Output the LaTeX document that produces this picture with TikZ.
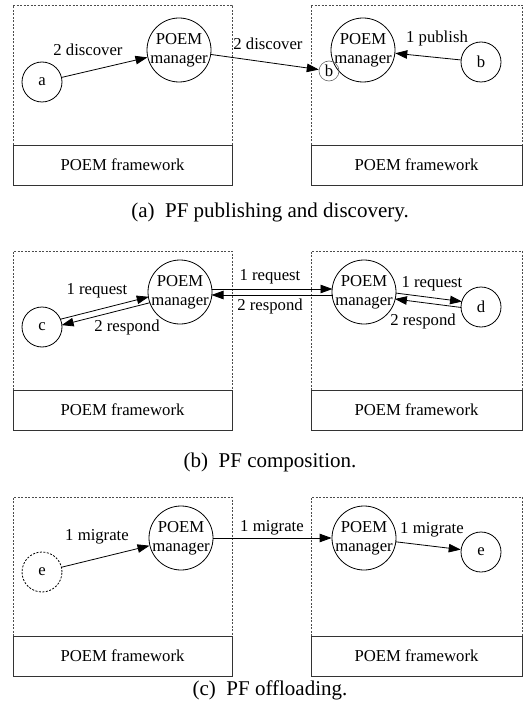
\documentclass[tikz,border=0pt]{standalone}
\usepackage{fontspec}
\setmainfont{Liberation Serif}
\usetikzlibrary{arrows.meta,calc}

\begin{document}
\begin{tikzpicture}[x=1pt,y=-1pt,
  every node/.style={font=\fontsize{16.7}{19}\selectfont},
  pf/.style={draw,circle,line width=0.8pt,minimum size=40pt,inner sep=0pt},
  ghostpf/.style={pf,dash pattern=on 2pt off 1.5pt},
  mgr/.style={draw,circle,line width=0.8pt,minimum size=64pt,inner sep=0pt,
    label={[align=center,inner sep=0pt,font=\fontsize{16.7}{19}\selectfont]center:POEM\\manager}},
  smallpf/.style={draw=black!60,circle,line width=0.6pt,minimum size=20pt,inner sep=0pt},
  lbl/.style={inner sep=1pt},
  fw/.style={draw=black!80,line width=0.8pt,minimum height=40pt,inner sep=0pt},
  host/.style={draw=black!70,line width=0.7pt,dash pattern=on 2pt off 1.5pt},
  arr/.style={line width=0.8pt,-{Triangle[length=12pt,width=8.5pt]}},
  caption/.style={font=\fontsize{21}{24}\selectfont}
]
\useasboundingbox (0,0) rectangle (523,714);

% ---------- (a) publishing and discovery ----------
\draw[host] (13,145) -- (13,5) -- (232,5) -- (232,145);
\draw[host] (311,145) -- (311,5) -- (522,5) -- (522,145);
\node[fw,minimum width=219pt] (fwa1) at (122.5,165) {POEM framework};
\node[fw,minimum width=211pt] (fwa2) at (416.5,165) {POEM framework};

\node[pf]  (a)   at (42,82)  {a};
\node[mgr] (ma1) at (179,50) {};
\node[mgr] (ma2) at (363,50) {};
\node[smallpf] (bs) at (329,71) {b};
\node[pf]  (b)   at (481,62) {b};

\draw[arr] (a) -- (ma1);
\draw[arr] (ma1) -- (bs);
\draw[arr] (b) -- (ma2);
\node[lbl] (la1) at (88,50)  {2 discover};
\node[lbl] (la2) at (268,44) {2 discover};
\node[lbl] (la3) at (437,38) {1 publish};

\node[caption] (capa) at (270,212) {(a)\ \ PF publishing and discovery.};

% ---------- (b) composition ----------
\draw[host] (13,390) -- (13,251) -- (232,251) -- (232,390);
\draw[host] (311,390) -- (311,251) -- (522,251) -- (522,390);
\node[fw,minimum width=219pt] (fwb1) at (122.5,410) {POEM framework};
\node[fw,minimum width=211pt] (fwb2) at (416.5,410) {POEM framework};

\node[pf]  (c)   at (42,327)  {c};
\node[mgr] (mb1) at (180,292) {};
\node[mgr] (mb2) at (364,292) {};
\node[pf]  (d)   at (481,307) {d};

% request / respond pairs, drawn as two parallel lines
\draw[arr,shorten <=19.5pt,shorten >=31.5pt] ($(c)!3pt!90:(mb1)$) -- ($(mb1)!3pt!-90:(c)$);
\draw[arr,shorten <=31.5pt,shorten >=19.5pt] ($(mb1)!3pt!90:(c)$) -- ($(c)!3pt!-90:(mb1)$);
\draw[arr,shorten <=31.5pt,shorten >=31.5pt] ($(mb1)!3pt!90:(mb2)$) -- ($(mb2)!3pt!-90:(mb1)$);
\draw[arr,shorten <=31.5pt,shorten >=31.5pt] ($(mb2)!3pt!90:(mb1)$) -- ($(mb1)!3pt!-90:(mb2)$);
\draw[arr,shorten <=31.5pt,shorten >=19.5pt] ($(mb2)!3pt!90:(d)$) -- ($(d)!3pt!-90:(mb2)$);
\draw[arr,shorten <=19.5pt,shorten >=31.5pt] ($(d)!3pt!90:(mb2)$) -- ($(mb2)!3pt!-90:(d)$);

\node[lbl] (lb1) at (97,291)  {1 request};
\node[lbl] (lb2) at (127,327) {2 respond};
\node[lbl] (lb3) at (270,277) {1 request};
\node[lbl] (lb4) at (270,306) {2 respond};
\node[lbl] (lb5) at (432,284) {1 request};
\node[lbl] (lb6) at (423,321) {2 respond};

\node[caption] (capb) at (270,462) {(b)\ \ PF composition.};

% ---------- (c) offloading ----------
\draw[host] (13,636) -- (13,497) -- (232,497) -- (232,636);
\draw[host] (311,636) -- (311,497) -- (522,497) -- (522,636);
\node[fw,minimum width=219pt] (fwc1) at (122.5,656) {POEM framework};
\node[fw,minimum width=211pt] (fwc2) at (416.5,656) {POEM framework};

\node[ghostpf] (e1) at (42,572)  {e};
\node[mgr]     (mc1) at (181,538) {};
\node[mgr]     (mc2) at (364,538) {};
\node[pf]      (e2) at (481,552) {e};

\draw[arr] (e1) -- (mc1);
\draw[arr] (mc1) -- (mc2);
\draw[arr] (mc2) -- (e2);
\node[lbl] (lc1) at (97,537)  {1 migrate};
\node[lbl] (lc2) at (272,528) {1 migrate};
\node[lbl] (lc3) at (432,530) {1 migrate};

\node[caption] (capc) at (270,690) {(c)\ \ PF offloading.};
\end{tikzpicture}
\end{document}
